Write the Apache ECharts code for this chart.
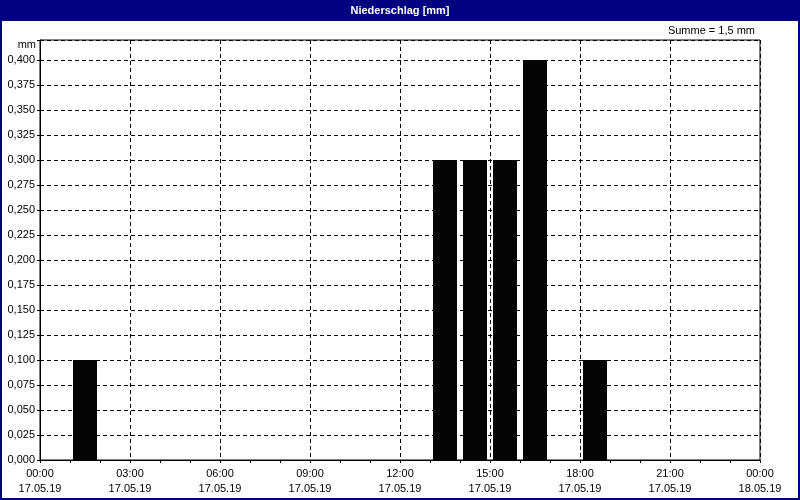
<!DOCTYPE html>
<html>
<head>
<meta charset="utf-8">
<script src="https://cdn.jsdelivr.net/npm/echarts@6/dist/echarts.min.js"></script>
<style>
html,body{margin:0;padding:0;background:#fff;}
#c{width:800px;height:500px;}
</style>
</head>
<body>
<div id="c"></div>
<script>
const titleText = 'Niederschlag [mm]';
const unit = 'mm';
const startHours = [1, 13, 14, 15, 16, 18];
const values = [0.1, 0.3, 0.3, 0.3, 0.4, 0.1];
const dayLabel = '17.05.19';
const nextDayLabel = '18.05.19';

const sum = values.reduce((a, b) => a + b, 0);
const sumText = 'Summe = ' + sum.toFixed(1).replace('.', ',') + ' mm';
const barData = startHours.map((h, i) => [h + 0.5, values[i]]);

const FONT = '"Liberation Sans", Arial, sans-serif';
const chart = echarts.init(document.getElementById('c'), null, {renderer: 'canvas'});
chart.setOption({
  backgroundColor: '#ffffff',
  animation: false,
  textStyle: {fontFamily: FONT},
  grid: {left: 40, right: 40, top: 40, bottom: 40, show: true, borderColor: '#000', borderWidth: 1, backgroundColor: 'transparent'},
  graphic: [
    {type: 'rect', left: 0, top: 0, shape: {width: 800, height: 21}, style: {fill: '#000080'}, z: 0},
    {type: 'rect', shape: {x: 1, y: 1, width: 798, height: 498}, style: {fill: 'none', stroke: '#000080', lineWidth: 2}, z: 0},
    {type: 'text', x: 400, y: 10.5, style: {text: titleText, fill: '#fff', font: 'bold 11px ' + FONT, textAlign: 'center', textVerticalAlign: 'middle'}, z: 5},
    {type: 'text', x: 755, y: 31, style: {text: sumText, fill: '#000', font: '11px ' + FONT, textAlign: 'right', textVerticalAlign: 'middle'}, z: 5}
  ],
  xAxis: {
    type: 'value', min: 0, max: 24, interval: 3,
    axisLine: {show: true, lineStyle: {color: '#000', width: 1}},
    axisTick: {show: true, length: 3, lineStyle: {color: '#000'}},
    minorTick: {show: true, splitNumber: 3, length: 3, lineStyle: {color: '#000'}},
    splitLine: {show: true, lineStyle: {color: '#000', type: [4, 3], width: 1}},
    axisLabel: {
      color: '#000', fontSize: 11, fontFamily: FONT, lineHeight: 15, margin: 6,
      showMinLabel: true, showMaxLabel: true,
      formatter: v => (v >= 24 ? '00:00\n' + nextDayLabel : String(v).padStart(2, '0') + ':00\n' + dayLabel)
    }
  },
  yAxis: {
    type: 'value', min: 0, max: 0.42, interval: 0.025,
    name: unit, nameLocation: 'end', nameGap: -5,
    nameTextStyle: {color: '#000', fontSize: 11, fontFamily: FONT, align: 'right', verticalAlign: 'middle', padding: [0, 4, 0, 0]},
    axisLine: {show: true, lineStyle: {color: '#000', width: 1}},
    axisTick: {show: true, length: 3, lineStyle: {color: '#000'}},
    splitLine: {show: true, lineStyle: {color: '#000', type: [4, 3], width: 1}},
    axisLabel: {
      color: '#000', fontSize: 11, fontFamily: FONT, margin: 5,
      formatter: v => (v > 0.401 ? '' : v.toFixed(3).replace('.', ','))
    }
  },
  series: [{
    type: 'bar', data: barData, barWidth: 24,
    itemStyle: {color: '#050505'}, z: 3
  }]
});
</script>
</body>
</html>
